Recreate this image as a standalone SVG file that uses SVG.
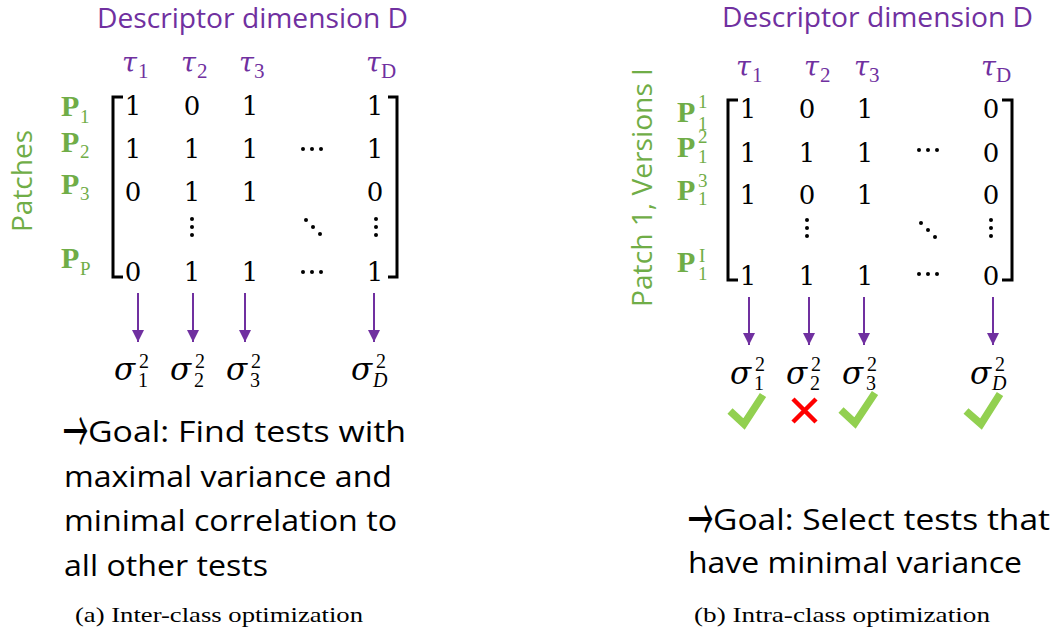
<svg xmlns="http://www.w3.org/2000/svg" width="1054" height="635" viewBox="0 0 1054 635">
  <style>
    .title { font-family: "Open Sans", "Liberation Sans", sans-serif; font-size: 28px; fill: #7030A0; }
    .axis { font-family: "Open Sans", "Liberation Sans", sans-serif; font-size: 28px; fill: #70AD47; }
    .goal { font-family: "Open Sans", "Liberation Sans", sans-serif; font-size: 29px; fill: #000; }
    .goal-arrow { font-family: "Noto Sans CJK SC", "DejaVu Sans", sans-serif; font-size: 60px; fill: #000; }
    .cap { font-family: "Liberation Serif", serif; font-size: 21px; fill: #000; }
    .tau { font-family: "DejaVu Serif", "Liberation Serif", serif; font-style: italic; font-size: 27px; fill: #7030A0; }
    .tsub { font-family: "Liberation Serif", serif; font-size: 21px; fill: #7030A0; }
    .num { font-family: "DejaVu Serif", "Liberation Serif", serif; font-size: 26px; fill: #000; text-anchor: middle; }
    .pl { font-family: "Liberation Serif", serif; font-weight: bold; font-size: 30px; fill: #70AD47; }
    .ps { font-family: "Liberation Serif", serif; font-size: 19px; fill: #70AD47; }
    .sig { font-family: "DejaVu Serif", "Liberation Serif", serif; font-style: italic; font-size: 31px; fill: #000; }
    .ss { font-family: "Liberation Serif", serif; font-size: 20px; fill: #000; }
    .bracket { fill: none; stroke: #000; stroke-width: 3; }
    .dot { fill: #000; }
    .arrow { stroke: #7030A0; stroke-width: 2; marker-end: url(#head); }
    .ok { fill: none; stroke: #92D050; stroke-width: 7.5; stroke-linejoin: miter; }
    .no { stroke: #FF0000; stroke-width: 4.5; }
  </style>
  <defs>
    <marker id="head" markerUnits="userSpaceOnUse" markerWidth="14" markerHeight="14" refX="12" refY="6" orient="auto">
      <path d="M0,0 L12,6 L0,12 Z" fill="#7030A0"/>
    </marker>
    <g id="vdots">
      <circle cx="0" cy="0" r="2" class="dot"/>
      <circle cx="0" cy="8" r="2" class="dot"/>
      <circle cx="0" cy="16" r="2" class="dot"/>
    </g>
    <g id="cdots">
      <circle cx="0" cy="0" r="2" class="dot"/>
      <circle cx="9" cy="0" r="2" class="dot"/>
      <circle cx="18" cy="0" r="2" class="dot"/>
    </g>
    <g id="ddots">
      <circle cx="0" cy="0" r="2" class="dot"/>
      <circle cx="7" cy="7" r="2" class="dot"/>
      <circle cx="14" cy="14" r="2" class="dot"/>
    </g>
  </defs>

  <!-- (a) inter-class panel -->
  <g id="inter-title">
    <text class="title" x="97" y="28" textLength="311" lengthAdjust="spacingAndGlyphs">Descriptor dimension D</text>
  </g>
  <g id="inter-patches-label">
    <text class="axis" transform="translate(32,232) rotate(-90)" textLength="102" lengthAdjust="spacingAndGlyphs">Patches</text>
  </g>
  <g id="inter-tests">
    <text class="tau" x="122" y="72">τ</text><text class="tsub" x="138" y="78">1</text>
    <text class="tau" x="181" y="72">τ</text><text class="tsub" x="197" y="78">2</text>
    <text class="tau" x="239" y="72">τ</text><text class="tsub" x="254" y="78">3</text>
    <text class="tau" x="366" y="72">τ</text><text class="tsub" x="381" y="78">D</text>
  </g>
  <g id="inter-rows">
    <text class="pl" x="61" y="116">P</text><text class="ps" x="80" y="123">1</text>
    <text class="pl" x="61" y="152">P</text><text class="ps" x="80" y="158">2</text>
    <text class="pl" x="61" y="194">P</text><text class="ps" x="80" y="200">3</text>
    <text class="pl" x="61" y="268">P</text><text class="ps" x="80" y="275">P</text>
  </g>
  <g id="inter-matrix">
    <path class="bracket" d="M123,97 H113 V277 H123"/>
    <path class="bracket" d="M388,97 H397 V277 H388"/>
    <text class="num" x="133" y="115">1</text><text class="num" x="192" y="115">0</text><text class="num" x="250" y="115">1</text><text class="num" x="375" y="115">1</text>
    <text class="num" x="133" y="158">1</text><text class="num" x="192" y="158">1</text><text class="num" x="250" y="158">1</text><text class="num" x="375" y="158">1</text>
    <use href="#cdots" x="303" y="149"/>
    <text class="num" x="133" y="201">0</text><text class="num" x="192" y="201">1</text><text class="num" x="250" y="201">1</text><text class="num" x="375" y="201">0</text>
    <use href="#vdots" x="192" y="219"/>
    <use href="#ddots" x="306" y="220"/>
    <use href="#vdots" x="376" y="219"/>
    <text class="num" x="133" y="281">0</text><text class="num" x="192" y="281">1</text><text class="num" x="250" y="281">1</text><text class="num" x="375" y="281">1</text>
    <use href="#cdots" x="303" y="272"/>
  </g>
  <g id="inter-connectors">
    <line class="arrow" x1="138" y1="293" x2="138" y2="342"/>
    <line class="arrow" x1="193" y1="293" x2="193" y2="342"/>
    <line class="arrow" x1="245" y1="293" x2="245" y2="342"/>
    <line class="arrow" x1="374" y1="293" x2="374" y2="342"/>
  </g>
  <g id="inter-variances">
    <text class="sig" x="114" y="380">σ</text><text class="ss" x="139" y="368">2</text><text class="ss" x="138" y="387">1</text>
    <text class="sig" x="170" y="380">σ</text><text class="ss" x="195" y="368">2</text><text class="ss" x="194" y="387">2</text>
    <text class="sig" x="226" y="380">σ</text><text class="ss" x="251" y="368">2</text><text class="ss" x="250" y="387">3</text>
    <text class="sig" x="351" y="380">σ</text><text class="ss" x="376" y="368">2</text><text class="ss" x="373" y="387" font-style="italic">D</text>
  </g>
  <g id="inter-goal">
    <text class="goal-arrow" transform="translate(63,454) scale(0.42,1)">→</text>
    <text class="goal" x="88" y="442" textLength="318" lengthAdjust="spacingAndGlyphs">Goal: Find tests with</text>
    <text class="goal" x="64" y="487" textLength="328" lengthAdjust="spacingAndGlyphs">maximal variance and</text>
    <text class="goal" x="64" y="531" textLength="333" lengthAdjust="spacingAndGlyphs">minimal correlation to</text>
    <text class="goal" x="64" y="576" textLength="204" lengthAdjust="spacingAndGlyphs">all other tests</text>
  </g>
  <g id="inter-caption">
    <text class="cap" x="75" y="622" textLength="288" lengthAdjust="spacingAndGlyphs">(a) Inter-class optimization</text>
  </g>

  <!-- (b) intra-class panel -->
  <g id="intra-title">
    <text class="title" x="722" y="27" textLength="311" lengthAdjust="spacingAndGlyphs">Descriptor dimension D</text>
  </g>
  <g id="intra-versions-label">
    <text class="axis" transform="translate(652,307) rotate(-90)" textLength="239" lengthAdjust="spacingAndGlyphs">Patch 1, Versions I</text>
  </g>
  <g id="intra-tests">
    <text class="tau" x="736" y="76">τ</text><text class="tsub" x="752" y="82">1</text>
    <text class="tau" x="804" y="76">τ</text><text class="tsub" x="820" y="82">2</text>
    <text class="tau" x="854" y="76">τ</text><text class="tsub" x="869" y="82">3</text>
    <text class="tau" x="981" y="76">τ</text><text class="tsub" x="996" y="82">D</text>
  </g>
  <g id="intra-rows">
    <text class="pl" x="677" y="122">P</text><text class="ps" x="698" y="108">1</text><text class="ps" x="698" y="130">1</text>
    <text class="pl" x="677" y="157">P</text><text class="ps" x="698" y="143">2</text><text class="ps" x="698" y="163">1</text>
    <text class="pl" x="677" y="200">P</text><text class="ps" x="698" y="187">3</text><text class="ps" x="698" y="205">1</text>
    <text class="pl" x="677" y="272">P</text><text class="ps" x="699" y="262">I</text><text class="ps" x="698" y="280">1</text>
  </g>
  <g id="intra-matrix">
    <path class="bracket" d="M738,100 H728 V280 H738"/>
    <path class="bracket" d="M1002,100 H1012 V280 H1002"/>
    <text class="num" x="748" y="118">1</text><text class="num" x="807" y="118">0</text><text class="num" x="865" y="118">1</text><text class="num" x="991" y="118">0</text>
    <text class="num" x="748" y="162">1</text><text class="num" x="807" y="162">1</text><text class="num" x="865" y="162">1</text><text class="num" x="991" y="162">0</text>
    <use href="#cdots" x="919" y="150"/>
    <text class="num" x="748" y="204">1</text><text class="num" x="807" y="204">0</text><text class="num" x="865" y="204">1</text><text class="num" x="991" y="204">0</text>
    <use href="#vdots" x="807" y="220"/>
    <use href="#ddots" x="921" y="223"/>
    <use href="#vdots" x="991" y="220"/>
    <text class="num" x="748" y="285">1</text><text class="num" x="807" y="285">1</text><text class="num" x="865" y="285">1</text><text class="num" x="991" y="285">0</text>
    <use href="#cdots" x="919" y="274"/>
  </g>
  <g id="intra-connectors">
    <line class="arrow" x1="749" y1="297" x2="749" y2="345"/>
    <line class="arrow" x1="809" y1="297" x2="809" y2="345"/>
    <line class="arrow" x1="864" y1="297" x2="864" y2="345"/>
    <line class="arrow" x1="993" y1="297" x2="993" y2="345"/>
  </g>
  <g id="intra-variances">
    <text class="sig" x="730" y="384">σ</text><text class="ss" x="755" y="371">2</text><text class="ss" x="754" y="390">1</text>
    <text class="sig" x="786" y="384">σ</text><text class="ss" x="811" y="371">2</text><text class="ss" x="810" y="390">2</text>
    <text class="sig" x="842" y="384">σ</text><text class="ss" x="867" y="371">2</text><text class="ss" x="866" y="390">3</text>
    <text class="sig" x="970" y="384">σ</text><text class="ss" x="995" y="371">2</text><text class="ss" x="992" y="390" font-style="italic">D</text>
  </g>
  <g id="intra-marks">
    <path class="ok" d="M730,411 L744,424 L763,395"/>
    <path class="no" d="M793,399 L816,422 M816,399 L793,422"/>
    <path class="ok" d="M841,410 L855,423 L875,393"/>
    <path class="ok" d="M966,411 L981,424 L1000,394"/>
  </g>
  <g id="intra-goal">
    <text class="goal-arrow" transform="translate(688,542) scale(0.42,1)">→</text>
    <text class="goal" x="713" y="530" textLength="337" lengthAdjust="spacingAndGlyphs">Goal: Select tests that</text>
    <text class="goal" x="688" y="573" textLength="334" lengthAdjust="spacingAndGlyphs">have minimal variance</text>
  </g>
  <g id="intra-caption">
    <text class="cap" x="694" y="622" textLength="296" lengthAdjust="spacingAndGlyphs">(b) Intra-class optimization</text>
  </g>
</svg>
